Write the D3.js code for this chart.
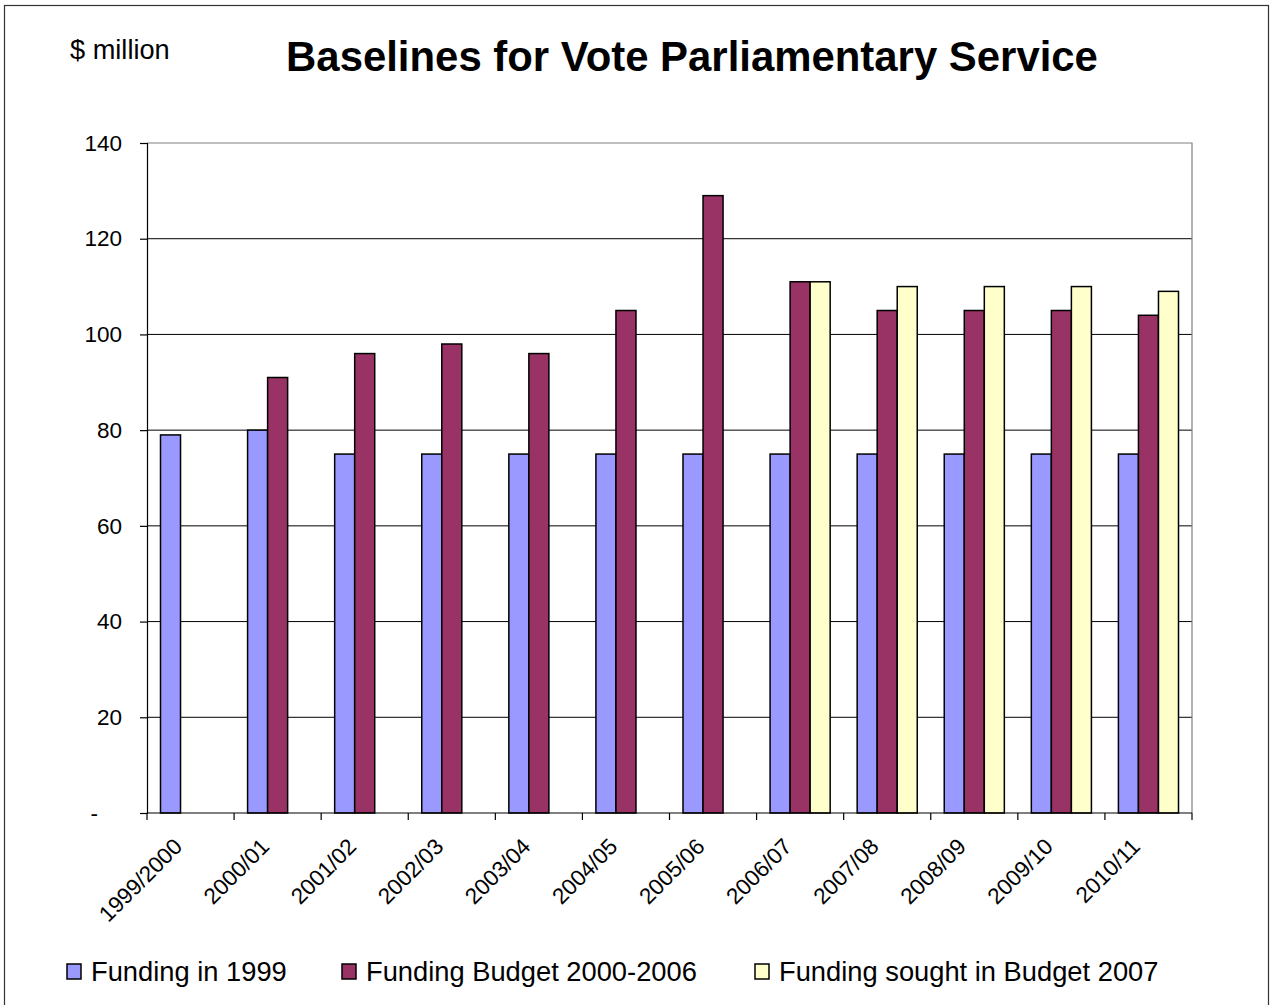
<!DOCTYPE html>
<html>
<head>
<meta charset="utf-8">
<script src="https://cdn.jsdelivr.net/npm/d3@7"></script>
<style>
  html, body { margin: 0; padding: 0; background: #fff; }
  svg { display: block; font-family: Arial, "Liberation Sans", sans-serif; }
</style>
</head>
<body>
<svg id="chart" width="1270" height="1005"></svg>
<script>
const categories = ["1999/2000","2000/01","2001/02","2002/03","2003/04","2004/05","2005/06","2006/07","2007/08","2008/09","2009/10","2010/11"];
const seriesNames = ["Funding in 1999","Funding Budget 2000-2006","Funding sought in Budget 2007"];
const funding1999 = [79, 80, 75, 75, 75, 75, 75, 75, 75, 75, 75, 75];
const budget2000_2006 = [null, 91, 96, 98, 96, 105, 129, 111, 105, 105, 105, 104];
const budget2007 = [null, null, null, null, null, null, null, 111, 110, 110, 110, 109];
const yTicks = [0, 20, 40, 60, 80, 100, 120, 140];
const colors = ["#9999FF", "#993366", "#FFFFCC"];

const seriesValues = [funding1999, budget2000_2006, budget2007];

const svg = d3.select("#chart");
const plot = { left: 147, right: 1192, top: 143, bottom: 813 };

// outer frame
svg.append("rect").attr("x", 4.5).attr("y", 5.5).attr("width", 1264).attr("height", 1010)
  .attr("fill", "none").attr("stroke", "#333").attr("stroke-width", 1.2);

const x0 = d3.scaleBand().domain(categories).range([plot.left, plot.right]).paddingInner(0).paddingOuter(0);
const x1 = d3.scaleBand().domain(d3.range(seriesNames.length)).range([0, x0.bandwidth()]).paddingInner(0).paddingOuter(0.674);
const y = d3.scaleLinear().domain([0, 140]).range([plot.bottom, plot.top]);

// gridlines
svg.append("g").selectAll("line").data(yTicks.filter(d => d > 0 && d < 140)).join("line")
  .attr("x1", plot.left).attr("x2", plot.right)
  .attr("y1", d => y(d)).attr("y2", d => y(d))
  .attr("stroke", "#000").attr("stroke-width", 1);

// plot frame top & right
svg.append("path")
  .attr("d", `M${plot.left},${y(140)}H${plot.right}V${plot.bottom}`)
  .attr("fill", "none").attr("stroke", "#808080").attr("stroke-width", 1.2);

// bars
const barData = [];
categories.forEach((c, i) => {
  seriesValues.forEach((arr, s) => {
    if (arr[i] != null) barData.push({ c, s, v: arr[i] });
  });
});
svg.append("g").selectAll("rect").data(barData).join("rect")
  .attr("x", d => x0(d.c) + x1(d.s))
  .attr("y", d => y(d.v))
  .attr("width", x1.bandwidth())
  .attr("height", d => y(0) - y(d.v))
  .attr("fill", d => colors[d.s])
  .attr("stroke", "#000").attr("stroke-width", 1.5);

// y axis
const yAxis = d3.axisLeft(y).tickValues(yTicks).tickSize(7).tickPadding(18)
  .tickFormat(d => d === 0 ? "-" : d);
const gy = svg.append("g").attr("transform", `translate(${plot.left},0)`).call(yAxis);
gy.select(".domain").attr("stroke", "#000").attr("stroke-width", 1.2);
gy.selectAll(".tick line").attr("stroke", "#000").attr("stroke-width", 1.2);
gy.selectAll(".tick text").attr("font-size", 22.5).attr("fill", "#000")
  .attr("font-family", "Arial, 'Liberation Sans', sans-serif");
gy.selectAll(".tick text").filter(d => d === 0).attr("x", -49);

// x axis
svg.append("line").attr("x1", plot.left).attr("x2", plot.right)
  .attr("y1", plot.bottom).attr("y2", plot.bottom).attr("stroke", "#000").attr("stroke-width", 1.2);
const boundaries = categories.map(c => x0(c)).concat([x0.range()[1]]);
svg.append("g").selectAll("line").data(boundaries).join("line")
  .attr("x1", d => d).attr("x2", d => d)
  .attr("y1", plot.bottom).attr("y2", plot.bottom + 7)
  .attr("stroke", "#000").attr("stroke-width", 1.2);

svg.append("g").selectAll("text").data(categories).join("text")
  .attr("transform", d => `translate(${x0(d) + x0.bandwidth() / 2 - 7},${plot.bottom + 35}) rotate(-45)`)
  .attr("text-anchor", "end")
  .attr("font-size", 22.5)
  .attr("fill", "#000")
  .text(d => d);

// title & unit label
svg.append("text").attr("x", 692).attr("y", 71).attr("text-anchor", "middle")
  .attr("font-size", 41.9).attr("font-weight", "bold").attr("fill", "#000")
  .text("Baselines for Vote Parliamentary Service");
svg.append("text").attr("x", 70).attr("y", 59).attr("font-size", 27.2).attr("fill", "#000")
  .text("$ million");

// legend
const legendX = [67, 342, 755];
const lg = svg.append("g").selectAll("g").data(seriesNames).join("g")
  .attr("transform", (d, i) => `translate(${legendX[i]},964)`);
lg.append("rect").attr("width", 14).attr("height", 15)
  .attr("fill", (d, i) => colors[i]).attr("stroke", "#000").attr("stroke-width", 1.5);
lg.append("text").attr("x", 24).attr("y", 17).attr("font-size", 27.3).attr("fill", "#000")
  .text(d => d);
</script>
</body>
</html>
